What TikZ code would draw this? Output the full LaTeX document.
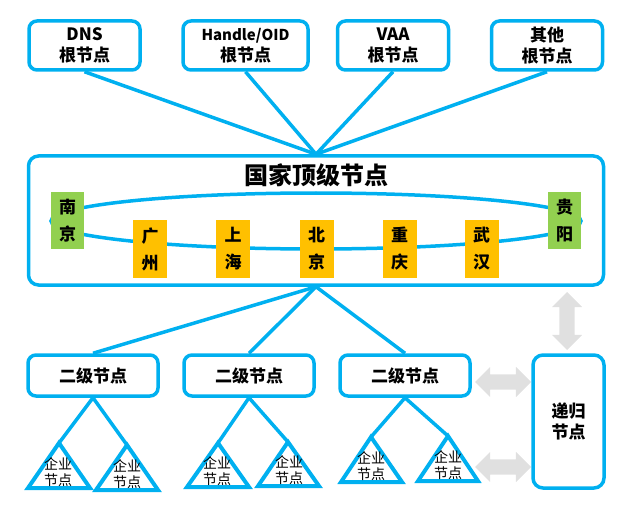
\documentclass[tikz,border=0pt]{standalone}
\usepackage{fontspec}
\setmainfont{Noto Sans CJK SC}
\usetikzlibrary{shapes.arrows}

\definecolor{lineblue}{RGB}{0,176,240}
\definecolor{citygreen}{RGB}{146,208,80}
\definecolor{cityyellow}{RGB}{255,192,0}
\definecolor{arrowgrey}{RGB}{224,224,224}

\tikzset{
  rootbox/.style={draw=lineblue, line width=3.5, rounded corners=8, fill=white,
    minimum width=111, minimum height=49, inner sep=0, align=center,
    font=\bfseries\fontsize{17}{21}\selectfont},
  secbox/.style={rootbox, minimum width=130, minimum height=41},
  city/.style={inner sep=0, align=center, minimum width=33, minimum height=57,
    font=\bfseries\fontsize{17}{27}\selectfont},
  link/.style={draw=lineblue, line width=3.5},
  tri/.style={draw=lineblue, line width=4, line join=miter},
  firm/.style={inner sep=0, align=center, font=\fontsize{14}{16}\selectfont},
  grey arrow/.style={double arrow, fill=arrowgrey, draw=none, inner xsep=0,
    inner ysep=7.5, double arrow head extend=7.5}
}

\begin{document}
\begin{tikzpicture}[x=1pt, y=-1pt]
	\useasboundingbox (0,0) rectangle (626,513);
	% root nodes
	\node[rootbox] (dns) at (84.5,45.5) {DNS\\根节点};
	\node[rootbox, minimum width=125] (handle) at (245.5,45.5) {{\fontsize{15}{21}\selectfont Handle/OID}\\根节点};
	\node[rootbox] (vaa) at (393,45.5) {VAA\\根节点};
	\node[rootbox] (other) at (547,45.5) {其他\\根节点};
	% national top level
	\node[rootbox, rounded corners=10, fill=none, minimum width=575, minimum height=129] (nation) at (316,220.5) {};
	\node[font=\bfseries\fontsize{24}{28}\selectfont] (title) at (316,175) {国家顶级节点};
		\draw[link] (dns.south) -- (nation.north);
		\draw[link] (handle.south) -- (nation.north);
		\draw[link] (vaa.south) -- (nation.north);
		\draw[link] (other.south) -- (nation.north);
	\draw[link] (316,221) ellipse [x radius=265, y radius=28];
	\node[city, fill=citygreen] (nj) at (67.5,220.5) {南\\京};
	\node[city, fill=citygreen] (gy) at (564.5,220.5) {贵\\阳};
	\node[city, fill=cityyellow, minimum width=34, minimum height=58] (gz) at (150,249) {广\\州};
	\node[city, fill=cityyellow, minimum width=34, minimum height=58] (sh) at (233,249) {上\\海};
	\node[city, fill=cityyellow, minimum width=34, minimum height=58] (bj) at (316.5,249) {北\\京};
	\node[city, fill=cityyellow, minimum width=34, minimum height=58] (cq) at (399.5,249) {重\\庆};
	\node[city, fill=cityyellow, minimum width=34, minimum height=58] (wh) at (481.5,249) {武\\汉};
	% second level
	\node[secbox] (sec1) at (93,375.5) {二级节点};
	\node[secbox] (sec2) at (249,375.5) {二级节点};
	\node[secbox] (sec3) at (405,375.5) {二级节点};
	\node[rootbox, rounded corners=10, minimum width=71, minimum height=133] (rec) at (568.5,421.5) {递归\\节点};
		\draw[link] (nation.south) -- (sec1.north);
		\draw[link] (nation.south) -- (sec2.north);
		\draw[link] (nation.south) -- (sec3.north);
	\node[grey arrow, minimum height=58, rotate=90] (ud) at (567,321) {};
	\node[grey arrow, minimum height=56] (lr1) at (503,382) {};
	\node[grey arrow, minimum height=56] (lr2) at (503,467) {};
	% enterprise nodes
	\coordinate (e1) at (59,443);
	\coordinate (e2) at (127,445);
	\coordinate (e3) at (218,443);
	\coordinate (e4) at (288,442);
	\coordinate (e5) at (371,437);
	\coordinate (e6) at (448,436);
		\draw[link] (sec1.south) -- (e1);
		\draw[link] (sec1.south) -- (e2);
		\draw[link] (sec2.south) -- (e3);
		\draw[link] (sec2.south) -- (e4);
		\draw[link] (sec3.south) -- (e5);
		\draw[link] (sec3.south) -- (e6);
	\draw[tri] (e1) -- (28,488) -- (90,488) -- cycle;
	\draw[tri] (e2) -- (96,490) -- (158,490) -- cycle;
	\draw[tri] (e3) -- (187,487) -- (249,487) -- cycle;
	\draw[tri] (e4) -- (258,486) -- (319,486) -- cycle;
	\draw[tri] (e5) -- (341,482) -- (402,482) -- cycle;
	\draw[tri] (e6) -- (418,481) -- (478,481) -- cycle;
	\node[firm] (f1) at (58,472) {企业\\节点};
	\node[firm] (f2) at (127,474) {企业\\节点};
	\node[firm] (f3) at (217,471) {企业\\节点};
	\node[firm] (f4) at (289,470) {企业\\节点};
	\node[firm] (f5) at (371,466) {企业\\节点};
	\node[firm] (f6) at (448,465) {企业\\节点};
\end{tikzpicture}
\end{document}
